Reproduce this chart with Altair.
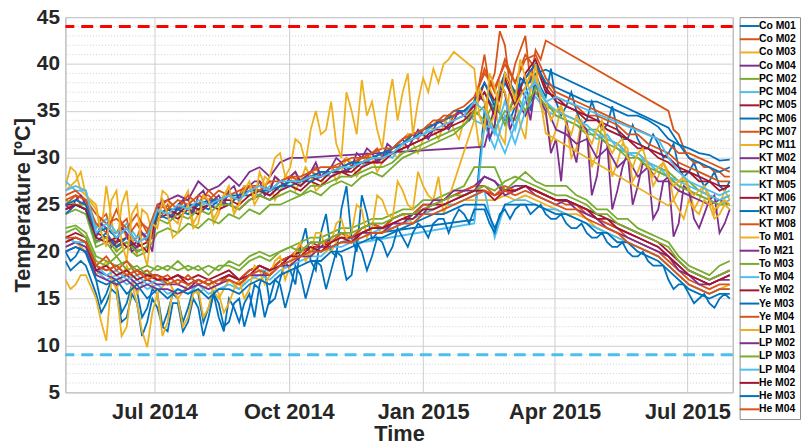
import altair as alt
import pandas as pd

N = None

# weekly sampling dates (2014-05-01 ... 2015-07-30) and mid-week dates for the noisiest sensors
week_dates = [d.strftime("%Y-%m-%dT%H:%M:%S") for d in pd.date_range("2014-05-01", periods=66, freq="7D")]
mid_dates = [d.strftime("%Y-%m-%dT%H:%M:%S") for d in pd.date_range("2014-05-04 12:00", periods=65, freq="7D")]

names = ["Co M01", "Co M02", "Co M03", "Co M04", "PC M02", "PC M04", "PC M05", "PC M06",
         "PC M07", "PC M11", "KT M02", "KT M04", "KT M05", "KT M06", "KT M07", "KT M08",
         "To M01", "To M21", "To M03", "To M04", "Ye M02", "Ye M03", "Ye M04", "LP M01",
         "LP M02", "LP M03", "LP M04", "He M02", "He M03", "He M04"]

palette = ["#0072BD", "#D95319", "#EDB120", "#7E2F8E", "#77AC30", "#4DBEEE", "#A2142F"]
colors = [palette[i % 7] for i in range(len(names))]

co_m01 = [20.0, 19.5, 19.8, 17.0, 15.5, 16.5, 14.5, 15.8, 14.0, 15.5, 13.5,
          15.0, 14.0, 15.5, 14.0, 13.0, 15.0, 12.5, 15.5, 16.5, 14.5, 17.0,
          18.0, 20.5, 19.0, 22.0, 20.0, 24.5, 21.5, 26.0, 21.3, N, N,
          N, N, N, N, N, N, N, 23.4, 35.0, 33.5, 37.0,
          35.5, 38.0, 39.0, 36.5, 36.0, 35.5, 35.0, 34.0, 34.5, 33.5, 33.0,
          32.0, 32.0, 31.0, 31.5, 30.5, 29.0, 28.5, 28.0, 27.5, 27.0, 27.5]
co_m02 = [25.0, 26.0, 25.5, 22.5, 24.0, 22.0, 23.5, 21.5, 22.5, 24.5, 25.0,
          24.5, 25.5, 25.0, 26.0, 25.0, 26.5, 26.0, 27.0, 27.5, 26.5, 27.5,
          28.0, 27.0, 28.5, 28.0, 29.0, 29.5, 29.0, 30.0, 30.5, 30.0, 31.0,
          32.0, 32.5, 33.0, 33.5, 34.0, 34.5, 35.0, 36.0, 41.0, 39.0, 42.0,
          40.0, 43.0, 41.5, 42.5, N, N, N, N, N, N, N,
          N, N, N, N, 35.0, 32.5, 30.0, 29.5, 29.0, 28.5, 28.0]
co_m03 = [27.0, 28.5, 26.0, 25.0, 27.0, 20.0, 26.5, 19.5, 24.0, 23.5, 26.0,
          23.0, 26.5, 24.0, 25.5, 24.0, 26.5, 25.5, 27.0, 26.0, 27.5, 26.5,
          28.0, 27.5, 28.0, 27.0, 29.0, 28.5, 29.5, 29.0, 30.0, 29.5, 30.5,
          31.0, 31.5, 32.0, 33.0, 33.5, 33.0, 34.0, 35.0, 33.0, 36.0, 31.5,
          37.0, 32.0, 39.0, 34.5, 33.0, 34.0, 31.0, 33.0, 30.5, 32.0, 29.5,
          31.0, 28.5, 29.5, 28.0, 28.5, 26.5, 27.0, 25.5, 26.0, 25.0, 25.5]
co_m04 = [24.5, 25.0, 24.5, 21.0, 21.5, 20.5, 21.0, 20.0, 20.5, 25.0, 25.5,
          26.0, 25.5, 27.5, 26.5, 27.0, 28.0, 27.0, 28.5, 29.0, 28.0, 29.5,
          30.0, 30.0, N, N, N, N, N, N, N, N, N,
          N, N, N, N, N, N, N, N, 31.2, 35.5, 34.0,
          36.5, 34.5, 37.0, 35.5, 33.0, 32.5, 31.5, 32.0, 30.0, 31.0, 29.0,
          30.0, 28.0, 29.0, 27.5, 27.5, 26.5, 26.0, 25.5, 25.0, 25.5, 25.0]
pc_m02 = [24.0, 24.5, 24.0, 20.5, 21.0, 19.5, 20.5, 19.5, 20.0, 22.0, 22.5,
          22.0, 23.0, 22.5, 23.5, 23.0, 24.0, 23.5, 24.5, 24.0, 25.0, 25.0,
          25.5, 26.0, 26.5, 26.0, 27.0, 27.5, 27.0, 28.0, 28.5, 28.0, 29.0,
          30.0, 30.5, 31.0, 31.5, 32.0, 32.5, 33.5, 34.5, 35.5, 33.0, 35.0,
          34.0, 36.0, 37.0, 35.5, 35.0, 34.5, 34.0, 33.0, 33.0, 32.0, 31.5,
          30.5, 30.5, 29.5, 29.0, 28.5, 27.5, 27.5, 26.5, 26.0, 25.5, 26.0]
pc_m04 = [27.5, 26.5, 26.5, 22.5, 23.5, 22.0, 23.0, 21.5, 22.0, 24.0, 24.5,
          24.0, 25.0, 24.5, 25.5, 25.0, 26.0, 25.5, 26.5, 26.0, 27.0, 26.5,
          27.5, 27.0, 28.0, 28.5, 28.0, 29.0, 29.5, 29.0, 30.0, 30.5, 30.0,
          31.5, 32.0, 32.5, 33.5, 34.0, 34.5, 35.0, 34.0, 33.5, 31.0, 34.5,
          31.5, 35.0, 36.5, 35.0, 34.5, 34.0, 33.5, 33.0, 32.0, 32.5, 31.0,
          30.5, 30.0, 29.5, 28.5, 28.0, 27.0, 26.5, 26.0, 25.5, 25.0, 25.5]
pc_m05 = [25.0, 25.0, 24.5, 22.0, 21.5, 21.0, 21.5, 20.5, 21.0, 23.5, 24.0,
          23.5, 24.5, 24.0, 25.0, 24.5, 25.0, 24.5, 25.5, 26.0, 25.5, 26.5,
          27.0, 26.5, 27.5, 27.0, 28.0, 28.5, 28.0, 29.0, 29.5, 30.0, 30.5,
          31.0, 31.5, 32.0, 32.5, 33.0, 33.5, 34.0, 35.0, 38.0, 36.0, 39.0,
          36.5, 38.5, 40.0, 37.0, 36.5, 35.5, 35.0, 34.0, 34.0, 33.0, 32.5,
          32.0, 31.0, 31.0, 30.0, 29.5, 28.5, 28.5, 27.5, 27.5, 26.5, 27.0]
pc_m06 = [24.0, 25.0, 24.5, 21.0, 22.0, 20.5, 21.5, 20.0, 20.5, 24.0, 23.5,
          24.5, 24.0, 25.0, 24.5, 25.5, 25.0, 26.0, 26.0, 26.5, 26.0, 27.0,
          27.0, 27.5, 27.5, 28.0, 28.5, 28.5, 29.0, 29.5, 30.0, 30.0, 31.0,
          31.5, 32.0, 33.0, 33.5, 34.0, 34.5, 35.0, 35.5, 37.0, 35.0, 38.0,
          36.0, 37.5, 39.0, 39.4, N, N, N, N, N, N, N,
          N, N, N, N, 33.2, 31.5, 30.0, 29.5, 29.0, 28.5, 29.0]
pc_m07 = [26.0, 26.5, 25.5, 23.0, 22.0, 24.5, 21.5, 23.0, 21.0, 24.5, 25.5,
          24.5, 26.0, 25.0, 26.5, 25.5, 26.0, 25.5, 27.0, 27.0, 26.5, 27.5,
          28.0, 27.5, 28.5, 28.0, 29.0, 29.0, 29.5, 30.0, 30.0, 30.5, 31.0,
          31.5, 32.5, 33.0, 33.5, 34.5, 34.5, 35.0, 36.0, 39.5, 37.0, 40.5,
          38.0, 41.0, 39.5, 38.0, 36.5, 36.0, 35.5, 34.5, 34.5, 34.0, 33.5,
          32.5, 32.5, 31.5, 31.0, 30.5, 29.5, 29.0, 28.5, 28.0, 27.5, 27.5]
pc_m11 = [20.5, 21.0, 20.0, 17.5, 19.0, 16.0, 18.5, 15.5, 17.5, 15.5, 17.0,
          15.0, 16.5, 15.5, 16.5, 15.0, 17.0, 16.0, 17.5, 17.0, 18.0, 18.5,
          19.0, 20.0, 19.5, 21.0, 20.0, 22.0, 21.0, 22.5, 23.0, 22.0, 23.5,
          24.0, 23.0, 24.0, 24.5, 25.0, 25.0, 25.5, 25.5, 25.5, 25.5, 26.0,
          25.5, 26.0, 25.5, 25.0, 24.5, 24.0, 24.0, 23.5, 22.5, 22.0, 21.5,
          21.0, 20.5, 20.0, 19.5, 18.5, 17.5, 16.5, 16.0, 15.5, 16.0, 16.5]
kt_m02 = [25.0, 25.5, 25.0, 21.5, 22.5, 21.0, 22.0, 20.5, 21.5, 24.5, 24.0,
          25.0, 24.5, 26.0, 25.0, 26.0, 26.5, 25.5, 27.0, 27.5, 26.5, 27.5,
          28.0, 27.5, 28.5, 28.0, 29.0, 29.5, 29.0, 30.0, 30.5, 30.0, 31.0,
          32.0, 32.0, 32.5, 33.0, 33.5, 34.0, 34.5, 35.0, 36.0, 33.5, 37.0,
          34.5, 36.5, 38.0, 35.0, 32.0, 34.0, 29.5, 33.0, 28.0, 31.5, 26.5,
          30.5, 27.0, 29.0, 24.5, 28.0, 23.0, 26.5, 22.5, 25.5, 22.0, 24.5]
kt_m04 = [25.5, 25.0, 25.0, 21.0, 21.5, 20.0, 21.0, 20.0, 20.5, 23.5, 23.0,
          24.0, 23.5, 24.5, 24.0, 25.0, 25.0, 24.5, 25.5, 26.0, 25.5, 26.0,
          26.5, 26.0, 27.0, 27.0, 27.5, 28.0, 28.0, 28.5, 29.0, 29.0, 29.5,
          30.5, 31.0, 31.5, 32.0, 32.5, 33.0, 33.5, 35.0, 34.0, 36.0, 33.5,
          37.0, 35.0, 37.5, 36.0, 34.5, 34.0, 33.5, 32.5, 32.5, 31.5, 31.0,
          30.0, 30.0, 29.0, 28.5, 28.0, 27.0, 26.5, 26.0, 25.5, 25.0, 25.0]
kt_m05 = [20.5, 21.0, 20.5, 18.0, 17.0, 17.5, 16.5, 17.0, 16.0, 16.5, 15.5,
          16.0, 15.5, 16.5, 15.5, 16.0, 16.5, 16.0, 17.0, 17.5, 17.0, 18.0,
          18.5, 19.0, 19.5, 19.5, 20.5, 20.5, 21.0, 21.0, N, N, N,
          N, N, N, N, N, N, N, 23.0, 33.5, 33.0, 30.5,
          33.5, 36.0, 38.5, 36.0, 35.0, 34.5, 34.0, 33.5, 32.5, 32.0, 31.5,
          30.5, 30.5, 29.5, 29.0, 28.0, 27.5, 27.0, 26.5, 26.0, 25.5, 26.0]
kt_m06 = [24.5, 25.0, 24.5, 21.5, 21.0, 21.5, 20.5, 21.0, 20.0, 24.0, 24.5,
          24.0, 25.0, 24.5, 25.0, 25.5, 25.5, 25.0, 26.0, 26.5, 26.0, 27.0,
          27.5, 27.0, 28.0, 27.5, 28.5, 28.5, 28.5, 29.5, 29.5, 29.5, 30.5,
          31.0, 31.5, 32.0, 33.0, 33.0, 34.0, 34.5, 35.5, 37.0, 34.5, 38.5,
          35.5, 39.0, 40.5, 37.5, 36.0, 35.5, 35.0, 34.5, 34.0, 33.5, 33.0,
          32.0, 31.5, 31.0, 30.5, 30.0, 29.0, 28.5, 28.0, 27.5, 27.0, 27.0]
kt_m07 = [25.0, 25.5, 25.0, 22.0, 22.5, 21.5, 22.5, 21.0, 21.5, 24.0, 24.5,
          24.5, 25.0, 25.0, 25.5, 25.5, 26.0, 26.0, 26.5, 26.5, 26.5, 27.0,
          27.5, 27.5, 28.0, 28.5, 28.5, 29.0, 29.5, 29.5, 30.0, 30.5, 31.0,
          31.5, 32.5, 33.0, 33.5, 34.0, 35.0, 35.0, 36.0, 38.0, 35.5, 39.0,
          37.0, 38.5, 40.0, 38.0, 37.5, 37.0, 36.5, 36.0, 36.0, 35.5, 35.0,
          34.5, 34.5, 34.0, 33.3, 32.0, 31.4, 31.0, 30.5, 30.3, 29.7, 29.8]
kt_m08 = [25.5, 26.0, 25.5, 24.0, 23.0, 23.5, 22.5, 24.0, 22.0, 25.0, 24.5,
          25.5, 25.0, 26.0, 25.5, 26.5, 26.0, 26.5, 27.0, 26.5, 27.5, 27.5,
          28.0, 28.0, 28.5, 29.0, 29.0, 29.5, 30.0, 30.0, 30.5, 31.0, 31.0,
          32.0, 32.5, 33.0, 34.0, 34.0, 35.0, 35.5, 36.5, 39.0, 37.5, 40.0,
          38.0, 40.5, 41.0, 38.5, 37.0, 36.5, 36.0, 35.5, 35.0, 34.5, 34.0,
          33.5, 33.0, 32.5, 32.0, 31.5, 30.5, 30.5, 30.0, 29.5, 29.0, 28.5]
to_m01 = [26.5, 27.5, 26.0, 24.5, 20.5, 26.5, 19.0, 25.0, 18.5, 22.5, 24.0,
          22.0, 25.0, 23.0, 25.5, 24.5, 27.0, 25.0, 27.5, 28.5, 28.0, 30.5,
          29.0, 31.5, 33.0, 32.5, 36.0, 30.0, 35.0, 38.3, 36.0, 31.0, 38.4,
          37.0, 32.5, 38.5, 39.5, 40.0, 41.3, N, 39.5, 33.0, 37.5, 39.0,
          36.0, 38.5, 40.0, 32.6, N, N, N, N, N, N, N,
          N, N, N, N, 24.9, 24.5, 25.5, 24.0, 25.0, 24.0, 24.5]
to_m21 = [20.5, 21.0, 20.5, 18.0, 17.5, 17.0, 17.5, 16.5, 17.0, 16.5, 16.5,
          16.5, 16.0, 17.0, 16.5, 17.0, 17.5, 17.0, 18.0, 18.5, 18.0, 19.0,
          19.5, 20.0, 21.0, 20.5, 21.5, 22.0, 21.5, 22.5, 23.0, 22.5, 23.5,
          24.0, 24.0, 25.0, 25.0, 25.5, 26.0, 26.5, 27.0, 28.0, 27.5, 26.5,
          27.0, 27.0, 26.5, 26.0, 25.5, 25.5, 25.0, 24.5, 23.5, 23.0, 22.5,
          22.0, 21.5, 21.0, 20.5, 19.5, 18.5, 17.5, 17.0, 16.5, 17.0, 17.0]
to_m03 = [22.5, 22.8, 22.0, 19.5, 19.0, 18.5, 19.0, 18.0, 18.5, 18.0, 18.5,
          18.0, 18.5, 18.0, 18.5, 18.0, 19.0, 18.5, 19.5, 20.0, 19.5, 20.0,
          20.5, 21.0, 21.5, 21.5, 22.0, 22.5, 22.5, 23.0, 23.5, 23.5, 24.0,
          24.5, 24.5, 25.5, 25.5, 26.0, 26.5, 27.0, 29.0, 29.0, 29.0, 26.5,
          27.5, 28.5, 27.5, 27.0, 27.0, 27.0, 26.0, 25.5, 24.5, 24.5, 23.5,
          23.5, 22.5, 22.0, 21.5, 21.0, 19.5, 18.5, 18.0, 17.5, 18.5, 19.0]
to_m04 = [21.5, 21.0, 21.0, 18.5, 17.5, 18.0, 17.0, 17.5, 16.5, 17.0, 16.5,
          17.0, 16.5, 17.0, 16.5, 17.0, 17.5, 17.0, 17.5, 18.0, 18.0, 18.5,
          19.0, 19.5, 20.0, 20.5, 20.5, 21.0, 21.5, 21.5, 22.0, 22.5, 22.5,
          23.0, 23.5, 24.0, 24.5, 25.0, 25.0, 25.5, 26.0, 26.5, 21.5, 25.0,
          25.5, 25.5, 25.0, 24.5, 24.5, 24.0, 23.5, 23.0, 22.5, 22.0, 21.5,
          21.0, 20.5, 20.0, 19.5, 18.5, 17.5, 16.5, 16.0, 15.5, 16.0, 16.0]
ye_m02 = [21.5, 22.0, 21.5, 18.5, 18.0, 18.5, 17.5, 18.0, 17.5, 17.5, 17.0,
          17.5, 17.0, 17.5, 17.0, 17.5, 18.0, 17.0, 18.0, 18.5, 18.0, 19.0,
          19.5, 20.0, 20.5, 20.5, 21.0, 21.5, 21.5, 22.0, 22.5, 22.5, 23.0,
          23.5, 24.0, 24.5, 25.0, 25.0, 25.5, 26.0, 26.5, 26.5, 25.5, 26.5,
          26.5, 27.0, 26.5, 26.0, 25.5, 25.5, 25.0, 24.5, 24.0, 23.5, 23.0,
          22.5, 22.0, 21.5, 21.0, 20.0, 19.0, 18.0, 17.5, 17.0, 17.5, 18.0]
ye_m03 = [19.0, 18.5, 18.5, 15.5, 14.5, 15.5, 13.0, 14.5, 12.5, 14.0, 11.5,
          14.5, 12.5, 14.0, 13.0, 14.5, 12.5, 15.0, 14.0, 16.0, 15.0, 16.5,
          16.0, 17.5, 17.0, 18.5, 18.0, 19.5, 17.5, 20.0, 19.5, 21.0, 20.5,
          21.5, 22.0, 22.5, 23.0, 23.5, 23.5, 24.0, 24.5, 24.5, 22.0, 24.5,
          24.5, 25.0, 24.5, 24.0, 23.5, 23.0, 22.5, 22.0, 21.5, 21.0, 20.5,
          20.0, 19.5, 19.0, 18.5, 17.0, 16.5, 15.5, 15.0, 14.5, 15.0, 15.0]
ye_m04 = [21.0, 21.5, 21.0, 18.5, 19.5, 18.0, 19.0, 17.5, 18.0, 17.0, 17.5,
          16.5, 17.5, 16.5, 17.0, 16.5, 17.5, 17.0, 18.0, 18.5, 18.0, 19.0,
          19.5, 20.5, 20.0, 21.0, 21.0, 22.0, 21.5, 22.5, 23.0, 22.5, 23.5,
          24.0, 24.0, 25.0, 25.0, 25.5, 26.0, 26.5, 27.0, 27.0, 26.0, 27.0,
          26.5, 27.0, 26.5, 26.0, 25.5, 25.0, 25.0, 24.0, 23.5, 23.0, 22.5,
          21.5, 21.0, 20.5, 20.0, 19.0, 18.0, 17.0, 16.5, 16.0, 16.5, 16.5]
lp_m01 = [17.0, 16.5, 17.5, 15.0, 10.5, 16.0, 12.0, 14.5, 9.8, 15.5, 12.5,
          15.0, 13.0, 16.0, 14.0, 15.5, 14.5, 17.0, 16.0, 18.0, 17.5, 19.5,
          18.5, 21.0, 20.0, 22.0, 21.0, 23.5, 22.0, 24.5, 22.5, 25.5, 23.5,
          26.5, 24.5, 27.0, 25.5, 24.0, N, N, 34.0, 36.0, 34.5, 37.0,
          35.5, 37.5, 38.5, 36.0, 35.0, 33.5, 34.5, 32.5, 33.0, 31.5, 31.5,
          30.0, 30.5, 29.0, 29.0, 28.0, 27.5, 26.5, 26.5, 25.5, 25.0, 25.0]
lp_m02 = [20.0, 20.5, 20.0, 17.5, 17.0, 16.5, 17.0, 16.0, 16.5, 16.0, 16.0,
          15.5, 16.0, 16.5, 16.0, 16.5, 17.0, 16.5, 17.5, 17.5, 17.5, 18.5,
          18.5, 19.5, 19.5, 20.5, 20.5, 21.0, 21.0, 22.0, 22.0, 22.0, 23.0,
          23.0, 24.0, 24.0, 25.5, 25.5, 26.5, 26.5, 26.5, 28.0, 27.5, 26.0,
          26.5, 27.0, 26.0, 25.5, 25.0, 25.5, 24.5, 24.0, 23.5, 22.5, 22.0,
          21.5, 21.0, 20.5, 20.0, 19.5, 18.0, 17.5, 16.5, 16.5, 17.0, 17.5]
lp_m03 = [22.0, 22.5, 21.5, 19.0, 18.5, 19.5, 18.0, 18.5, 17.5, 18.5, 18.0,
          19.0, 18.0, 18.5, 17.5, 18.5, 18.5, 18.0, 19.0, 19.5, 19.0, 20.0,
          20.5, 20.0, 21.0, 21.0, 21.5, 22.0, 22.0, 22.5, 23.0, 23.0, 23.5,
          24.0, 24.0, 24.5, 25.0, 25.5, 26.0, 26.0, 26.5, 27.0, 26.5, 27.5,
          28.0, 27.5, 27.0, 26.5, 26.0, 26.0, 25.5, 25.0, 24.0, 24.0, 23.0,
          22.5, 22.0, 21.5, 21.0, 20.5, 19.0, 18.0, 17.5, 17.0, 17.5, 18.0]
lp_m04 = [26.5, 27.0, 26.5, 22.0, 23.0, 21.5, 22.5, 21.0, 21.5, 24.5, 24.0,
          25.0, 24.5, 25.5, 25.0, 25.5, 26.0, 25.5, 26.5, 27.0, 26.5, 27.5,
          27.5, 27.5, 28.0, 28.0, 28.5, 29.0, 29.0, 29.5, 30.0, 30.0, 30.5,
          31.5, 32.0, 32.5, 33.0, 33.5, 34.0, 34.5, 36.0, 35.0, 32.5, 36.0,
          33.0, 37.0, 38.0, 36.0, 36.5, N, N, N, N, N, N,
          N, N, N, 32.0, 30.0, 28.5, 27.5, 27.0, 26.5, 26.0, 26.5]
he_m02 = [21.0, 21.5, 21.0, 18.0, 18.5, 17.5, 18.0, 17.0, 17.5, 17.0, 17.0,
          17.5, 16.5, 17.0, 16.5, 17.0, 17.5, 17.0, 17.5, 18.5, 18.0, 18.5,
          19.5, 19.5, 20.5, 20.0, 21.0, 21.5, 21.0, 22.0, 22.5, 22.5, 23.0,
          23.5, 23.5, 24.5, 24.5, 25.0, 25.5, 26.0, 26.5, 26.5, 26.0, 26.5,
          26.5, 27.0, 26.5, 26.0, 25.5, 25.5, 25.0, 24.5, 23.5, 23.5, 22.5,
          22.0, 21.5, 21.0, 20.5, 19.5, 18.5, 17.5, 17.0, 16.5, 17.0, 17.5]
he_m03 = [20.0, 20.5, 20.0, 17.0, 16.5, 17.0, 15.5, 16.5, 15.0, 16.0, 15.0,
          16.0, 15.5, 16.0, 15.0, 16.0, 16.0, 15.5, 16.5, 17.0, 16.5, 17.5,
          18.0, 18.5, 19.0, 19.0, 20.0, 20.0, 20.5, 21.0, 21.5, 21.5, 22.0,
          22.5, 23.0, 23.5, 24.0, 24.0, 24.5, 25.0, 25.0, 25.0, 22.5, 25.0,
          25.0, 25.0, 25.0, 24.5, 24.0, 24.0, 23.5, 23.0, 22.0, 22.0, 21.0,
          21.0, 20.0, 19.5, 19.0, 18.0, 17.0, 16.0, 15.5, 15.0, 15.5, 15.5]
he_m04 = [21.5, 21.5, 21.0, 18.5, 18.0, 18.5, 17.5, 18.0, 17.0, 17.5, 16.5,
          17.0, 16.5, 17.0, 16.5, 17.0, 17.0, 16.5, 17.5, 18.0, 17.5, 18.5,
          19.0, 19.5, 20.0, 20.0, 20.5, 21.0, 21.0, 21.5, 22.0, 22.0, 22.5,
          23.0, 23.0, 24.0, 24.0, 24.5, 25.0, 25.5, 26.0, 26.5, 26.0, 26.5,
          26.0, 26.5, 26.0, 25.5, 25.0, 24.5, 24.5, 23.5, 23.0, 22.5, 22.0,
          21.0, 20.5, 20.0, 19.5, 18.5, 17.5, 16.5, 16.0, 15.5, 16.0, 16.0]

# mid-week readings of the noisiest sensors
co_m01_mid = [19.0, 20.5, N, 14.5, 17.0, 13.5, 16.5, 13.0, 16.0, 12.0, 15.5,
              12.5, 16.0, 12.5, 15.5, 11.5, 14.0, 14.5, 13.0, 18.0, 15.0, 19.0,
              16.5, 22.5, 18.0, 24.0, 19.5, 27.0, 20.0, 24.0, 22.0, N, N,
              N, N, N, N, N, N, N, N, 32.0, 37.0, 34.0,
              38.5, 35.0, 37.5, 39.5, 34.5, 37.0, 33.5, 36.0, 33.0, 35.5, 32.0,
              33.5, 31.0, 32.5, 30.0, 31.5, 28.0, 29.5, 27.0, 28.5, 26.5]
co_m02_mid = [25.5, 25.0, N, 23.5, 22.0, 23.0, 21.0, 23.0, 21.5, 24.0, 24.0,
              25.5, 24.5, 26.0, 25.5, 26.0, 25.5, 27.0, 26.5, 27.0, 28.0, 27.0,
              28.5, 27.5, 29.0, 28.5, 28.5, 30.0, 29.5, 30.0, 31.0, 30.5, 31.5,
              32.5, 32.0, 33.5, 34.0, 33.5, 35.0, 34.5, 38.0, 37.5, 43.5, 37.5,
              41.5, 38.0, 40.5, N, N, N, N, N, N, N, N,
              N, N, N, N, 33.0, 31.0, 29.5, 29.0, 28.5, 28.0]
co_m03_mid = [29.0, 26.5, N, 22.0, 23.5, 25.0, 21.5, 24.5, 22.0, 26.5, 23.5,
              25.5, 23.0, 26.0, 23.0, 26.0, 24.0, 27.0, 25.0, 28.0, 25.5, 28.0,
              26.5, 29.0, 26.5, 28.5, 27.5, 30.0, 28.0, 30.5, 28.5, 31.0, 30.0,
              32.5, 30.5, 33.5, 32.0, 34.5, 32.0, 35.0, 31.0, 37.5, 32.5, 38.0,
              33.5, 37.5, 35.5, 31.5, 35.5, 30.0, 34.0, 29.0, 33.5, 28.0, 31.5,
              27.5, 30.0, 27.0, 29.5, 25.5, 28.0, 24.5, 27.0, 24.0, 26.5]
kt_m02_mid = [24.5, 26.0, N, 23.0, 20.5, 22.5, 20.0, 22.0, 20.0, 25.5, 23.5,
              25.5, 24.0, 26.5, 25.5, 25.0, 27.0, 26.5, 27.5, 26.0, 28.0, 27.0,
              28.5, 28.0, 29.5, 28.5, 30.0, 28.5, 30.5, 31.0, 29.5, 31.5, 31.5,
              31.0, 33.0, 32.0, 34.0, 33.0, 35.0, 34.0, 36.5, 32.0, 38.0, 33.0,
              37.5, 34.0, 36.0, 30.5, 27.5, 31.5, 33.5, 26.0, 32.0, 24.5, 29.0,
              25.0, 29.5, 23.5, 27.5, 21.6, 27.0, 23.5, 24.0, 26.0, 23.0]
to_m01_mid = [27.0, 28.5, N, 22.0, 25.5, 21.0, 24.0, 20.5, 23.0, 25.5, 21.5,
              24.0, 22.5, 26.0, 23.5, 26.0, 24.0, 26.5, 25.5, 27.0, 30.0, 28.0,
              32.0, 29.5, 35.0, 33.0, 31.5, 37.0, 32.5, 34.5, 33.0, 35.5, 34.0,
              39.0, 36.0, 37.0, 38.0, 40.5, N, N, 34.5, 39.0, 35.0, 38.0,
              40.5, 37.0, 36.0, N, N, N, N, N, N, N, N,
              N, N, N, N, 25.5, 23.5, 24.5, 25.5, 23.5, 25.0]
ye_m03_mid = [18.0, 19.0, N, 13.5, 16.0, 12.5, 15.5, 11.0, 15.0, 12.0, 14.5,
              11.5, 15.0, 11.0, 15.5, 12.0, 14.5, 12.0, 16.5, 13.0, 17.0, 14.0,
              18.5, 15.0, 19.0, 16.0, 20.0, 17.0, 21.0, 18.0, 21.5, 19.5, 22.5,
              20.5, 23.0, 21.5, 23.5, 22.0, 24.5, 23.0, 24.5, 23.0, 24.0, 23.5,
              25.0, 24.0, 25.0, 23.5, 24.0, 22.5, 23.0, 21.5, 22.0, 20.5, 21.0,
              19.5, 20.0, 18.5, 18.5, 16.0, 16.5, 14.5, 15.5, 14.0, 15.5]
lp_m01_mid = [16.0, 17.5, N, 12.5, 17.0, 11.0, 16.5, 11.5, 13.5, 11.0, 16.0,
              12.0, 15.5, 13.0, 16.5, 13.5, 16.0, 15.0, 18.5, 16.5, 19.0, 17.0,
              20.0, 19.0, 22.0, 20.0, 23.0, 21.5, 25.0, 21.5, 26.0, 24.0, 27.5,
              25.0, 28.5, 26.0, 28.0, N, N, N, 37.5, 33.5, 38.0, 35.0,
              36.5, 39.0, 37.0, 34.0, 35.5, 32.5, 33.5, 31.5, 34.0, 30.5, 32.0,
              29.0, 31.0, 28.0, 29.5, 27.0, 28.0, 26.0, 27.0, 24.5, 25.5]

series_values = [co_m01, co_m02, co_m03, co_m04, pc_m02, pc_m04, pc_m05, pc_m06,
                 pc_m07, pc_m11, kt_m02, kt_m04, kt_m05, kt_m06, kt_m07, kt_m08,
                 to_m01, to_m21, to_m03, to_m04, ye_m02, ye_m03, ye_m04, lp_m01,
                 lp_m02, lp_m03, lp_m04, he_m02, he_m03, he_m04]
mid_values = {"Co M01": co_m01_mid, "Co M02": co_m02_mid, "Co M03": co_m03_mid,
              "KT M02": kt_m02_mid, "To M01": to_m01_mid, "Ye M03": ye_m03_mid,
              "LP M01": lp_m01_mid}

y_ticks = [5, 10, 15, 20, 25, 30, 35, 40, 45]
y_minor = [v for v in range(6, 45) if v % 5 != 0]
upper_limit = [44]
lower_limit = [9]

rows = []
for name, vals in zip(names, series_values):
    for d, v in zip(week_dates, vals):
        if v is not None:
            rows.append({"date": d, "temp": v, "sensor": name})
    for d, v in zip(mid_dates, mid_values.get(name, [])):
        if v is not None:
            rows.append({"date": d, "temp": v, "sensor": name})
df = pd.DataFrame(rows)

FONT = "Liberation Sans"

x_scale = alt.Scale(domain=[alt.DateTime(year=2014, month=5, date=1),
                            alt.DateTime(year=2015, month=8, date=1)], nice=False)
y_scale = alt.Scale(domain=[5, 45], nice=False, zero=False)

x_ticks = [alt.DateTime(year=2014, month=7, date=1), alt.DateTime(year=2014, month=10, date=1),
           alt.DateTime(year=2015, month=1, date=1), alt.DateTime(year=2015, month=4, date=1),
           alt.DateTime(year=2015, month=7, date=1)]

minor = alt.Chart(pd.DataFrame({"temp": y_minor})).mark_rule(
    color="#c4c4c4", strokeDash=[1, 2], strokeWidth=0.8
).encode(y=alt.Y("temp:Q", scale=y_scale))

lines = alt.Chart(df).mark_line(strokeWidth=1.8, clip=True).encode(
    x=alt.X("date:T", scale=x_scale,
            axis=alt.Axis(values=x_ticks, format="%b %Y", title="Time", grid=True,
                          labelPadding=9, titlePadding=2, labelOverlap=False, labelFlush=False)),
    y=alt.Y("temp:Q", scale=y_scale,
            axis=alt.Axis(values=y_ticks, title="Temperature [ºC]", grid=True,
                          labelPadding=6, titlePadding=2, labelFontSize=21)),
    color=alt.Color("sensor:N", scale=alt.Scale(domain=names, range=colors),
                    legend=alt.Legend(title=None, orient="none", legendX=681, legendY=0,
                                      direction="vertical", symbolType="M-2.2,0H2.2",
                                      symbolSize=81, symbolStrokeWidth=2,
                                      labelFont=FONT, labelFontWeight="bold", labelFontSize=10.5,
                                      labelColor="black", rowPadding=2.35, padding=3.5,
                                      strokeColor="#8c8c8c", fillColor="white",
                                      symbolOffset=1, labelOffset=4, symbolLimit=50,
                                      labelLimit=120)),
)

ref_hi = alt.Chart(pd.DataFrame({"temp": upper_limit})).mark_rule(
    color="#FF0000", strokeWidth=3, strokeDash=[12, 7]
).encode(y=alt.Y("temp:Q", scale=y_scale))
ref_lo = alt.Chart(pd.DataFrame({"temp": lower_limit})).mark_rule(
    color="#4DBEEE", strokeWidth=3, strokeDash=[12, 7]
).encode(y=alt.Y("temp:Q", scale=y_scale))

chart = alt.layer(minor, lines, ref_hi, ref_lo).properties(
    width=674, height=379,
    padding={"left": 58, "top": 7, "right": 69, "bottom": 52},
    autosize=alt.AutoSizeParams(type="none"),
).configure_view(
    stroke="#a0a0a0", strokeWidth=1
).configure_axis(
    labelFont=FONT, labelFontWeight="bold", labelFontSize=22, labelColor="#262626",
    titleFont=FONT, titleFontWeight="bold", titleFontSize=22, titleColor="#262626",
    gridColor="#cdcdcd", gridWidth=1, domain=False, ticks=False
)

chart.save("out.html", embed_options={"renderer": "svg", "actions": False})
